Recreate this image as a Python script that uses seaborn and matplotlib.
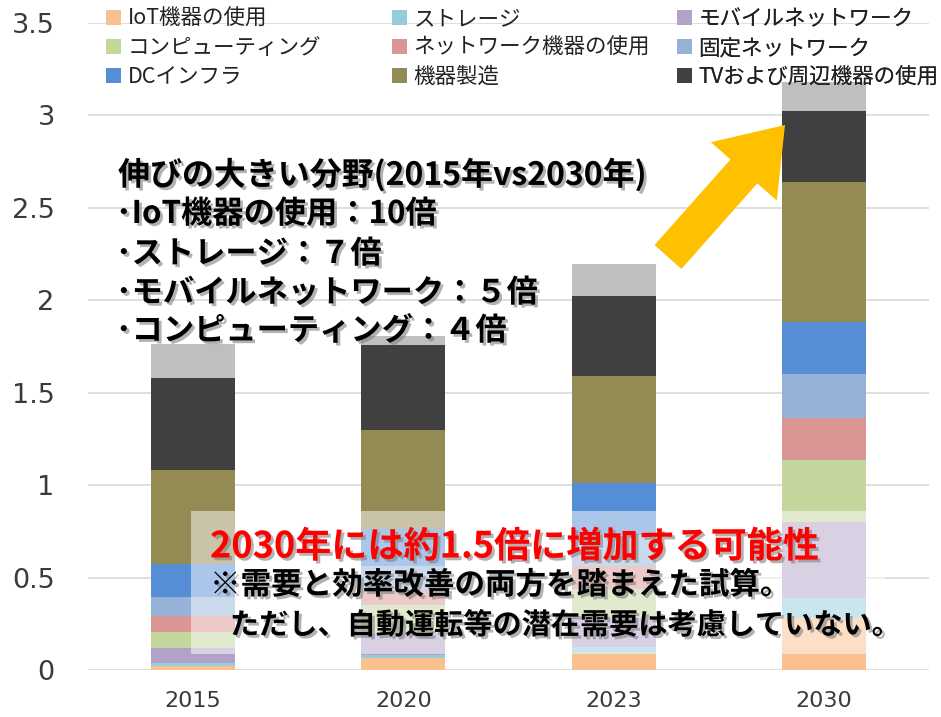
import matplotlib
matplotlib.use('Agg')
import matplotlib.pyplot as plt
import matplotlib.patheffects as pe
from matplotlib.patches import Patch, Rectangle, FancyArrow
from matplotlib.transforms import IdentityTransform
import seaborn as sns
import numpy as np

# data (stacked)
years = ['2015', '2020', '2023', '2030']
names = ['IoT機器の使用', 'ストレージ', 'モバイルネットワーク', 'コンピューティング',
         'ネットワーク機器の使用', '固定ネットワーク', 'DCインフラ', '機器製造',
         'TVおよび周辺機器の使用', 'その他']
iot = [0.022, 0.063, 0.09, 0.28]
storage = [0.014, 0.018, 0.035, 0.11]
mobile = [0.085, 0.12, 0.155, 0.41]
computing = [0.087, 0.15, 0.16, 0.335]
network = [0.085, 0.08, 0.12, 0.226]
fixed = [0.10, 0.13, 0.17, 0.242]
dc = [0.181, 0.204, 0.28, 0.28]
mfg = [0.509, 0.534, 0.58, 0.758]
tv = [0.499, 0.458, 0.432, 0.384]
other = [0.184, 0.05, 0.173, 0.155]
series = [iot, storage, mobile, computing, network, fixed, dc, mfg, tv, other]
colors = ['#FAC090', '#93CDDD', '#B3A2C7', '#C3D69B', '#D99694', '#95B3D7',
          '#558ED5', '#948A54', '#404040', '#BFBFBF']

sns.set_style('white')
plt.rcParams['font.family'] = ['DejaVu Sans', 'Noto Sans CJK JP']
JP = ['Noto Sans CJK JP', 'DejaVu Sans']

W, H = 941, 717
fig = plt.figure(figsize=(W / 100, H / 100), dpi=100)
ax = fig.add_axes([88 / W, 47 / H, (929 - 88) / W, (670 - 23) / H])

# stacked bars: draw cumulative totals from the top down
cum = np.cumsum(np.array(series), axis=0)
for i in range(len(series) - 1, -1, -1):
    sns.barplot(x=years, y=cum[i], color=colors[i], width=0.4, saturation=1,
                linewidth=0, errorbar=None, ax=ax)

ax.set_ylim(0, 3.5)
ax.set_yticks(np.arange(0, 3.51, 0.5))
ax.set_yticklabels(['0', '0.5', '1', '1.5', '2', '2.5', '3', '3.5'])
ax.yaxis.grid(True, color='#D9D9D9', linewidth=1.2)
ax.set_axisbelow(True)
for s in ax.spines.values():
    s.set_visible(False)
ax.set_xlabel('')
ax.set_ylabel('')
ax.tick_params(axis='y', length=0, pad=24, labelsize=19.5, labelcolor='#3a3a3a')
ax.tick_params(axis='x', length=0, pad=15, labelsize=16, labelcolor='#3a3a3a')

# legend: three columns placed by hand
order = [[0, 3, 6], [1, 4, 7], [2, 5, 8]]
col_x = [106, 392, 677]
for k, idx in enumerate(order):
    handles = [Patch(facecolor=colors[i], edgecolor='none') for i in idx]
    leg = ax.legend(handles, [names[i] for i in idx], loc='upper left',
                    bbox_to_anchor=(col_x[k] / W, (H - 8) / H),
                    bbox_transform=fig.transFigure, frameon=False,
                    borderpad=0, borderaxespad=0, handlelength=0.7,
                    handleheight=0.7, handletextpad=0.3, labelspacing=0.33,
                    prop={'family': JP, 'size': 15.5})
    for t in leg.get_texts():
        t.set_color('#222222')
    ax.add_artist(leg)

# translucent box behind the lower note
ax.add_patch(Rectangle((191 / W, (H - 654) / H), (885 - 191) / W, (654 - 511) / H,
                       transform=fig.transFigure, facecolor='white', alpha=0.5,
                       edgecolor='none', zorder=5, clip_on=False))

shadow = [pe.SimplePatchShadow(offset=(2, -2), shadow_rgbFace='#808080', alpha=0.6),
          pe.Normal()]

def note(x, y, s, size=21, color='black'):
    fig.text(x / W, (H - y) / H, s, fontsize=size, color=color, fontweight='bold',
             family=JP, va='center', ha='left', path_effects=shadow, zorder=6)

note(118, 175, '伸びの大きい分野(2015年vs2030年)', 23)
note(116, 214, '･IoT機器の使用：10倍', 22.5)
note(116, 254, '･ストレージ：７倍', 22.5)
note(116, 293, '･モバイルネットワーク：５倍', 22.5)
note(116, 331, '･コンピューティング：４倍', 22.5)

note(210, 547, '2030年には約1.5倍に増加する可能性', 26, '#FF0000')
note(210, 585, '※需要と効率改善の両方を踏まえた試算。', 22)
note(230, 625, 'ただし、自動運転等の潜在需要は考慮していない。', 21)

# yellow arrow toward the 2030 bar
arrow = FancyArrow(668, H - 257, 117, 132, width=36, head_width=88, head_length=62,
                   length_includes_head=True, facecolor='#FFC000', edgecolor='none',
                   transform=IdentityTransform())
fig.add_artist(arrow)

fig.savefig('out.png', dpi=100)
